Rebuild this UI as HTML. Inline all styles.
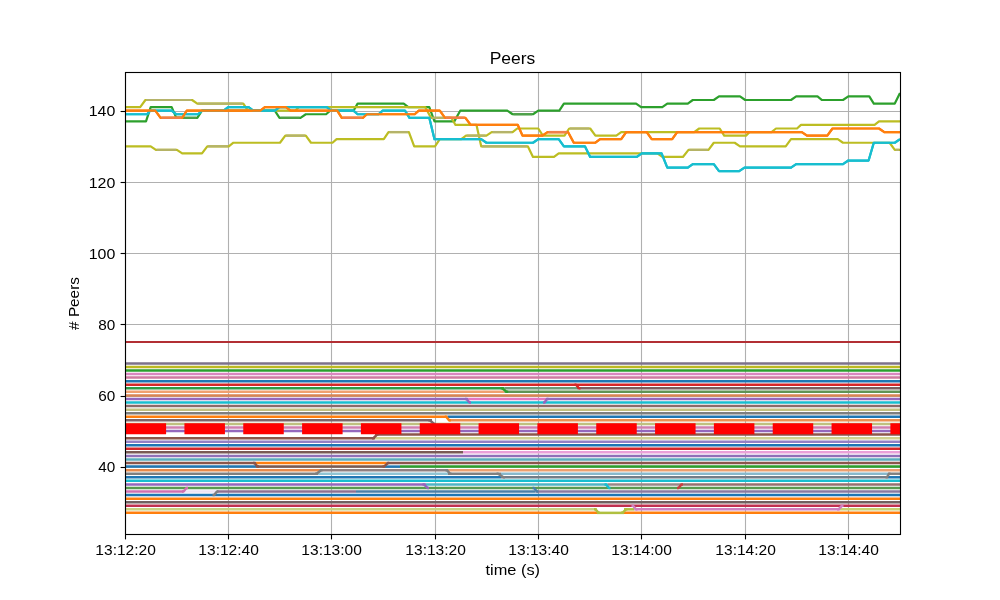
<!DOCTYPE html>
<html><head><meta charset="utf-8"><style>
html,body{margin:0;padding:0;background:#fff;width:1000px;height:600px;overflow:hidden}
svg{display:block;will-change:transform}
.t{font-family:"Liberation Sans",sans-serif;font-size:13.9px;fill:#000}
.ti{font-family:"Liberation Sans",sans-serif;font-size:16.7px;fill:#000}
</style></head><body>
<svg width="1000" height="600" viewBox="0 0 1000 600">
<rect width="1000" height="600" fill="#fff"/>
<line x1="125.50" y1="72" x2="125.50" y2="534" stroke="#b0b0b0" stroke-width="1.11"/>
<line x1="228.50" y1="72" x2="228.50" y2="534" stroke="#b0b0b0" stroke-width="1.11"/>
<line x1="331.50" y1="72" x2="331.50" y2="534" stroke="#b0b0b0" stroke-width="1.11"/>
<line x1="435.50" y1="72" x2="435.50" y2="534" stroke="#b0b0b0" stroke-width="1.11"/>
<line x1="538.50" y1="72" x2="538.50" y2="534" stroke="#b0b0b0" stroke-width="1.11"/>
<line x1="641.50" y1="72" x2="641.50" y2="534" stroke="#b0b0b0" stroke-width="1.11"/>
<line x1="745.50" y1="72" x2="745.50" y2="534" stroke="#b0b0b0" stroke-width="1.11"/>
<line x1="848.50" y1="72" x2="848.50" y2="534" stroke="#b0b0b0" stroke-width="1.11"/>
<line x1="125" y1="467.50" x2="900" y2="467.50" stroke="#b0b0b0" stroke-width="1.11"/>
<line x1="125" y1="396.50" x2="900" y2="396.50" stroke="#b0b0b0" stroke-width="1.11"/>
<line x1="125" y1="324.50" x2="900" y2="324.50" stroke="#b0b0b0" stroke-width="1.11"/>
<line x1="125" y1="253.50" x2="900" y2="253.50" stroke="#b0b0b0" stroke-width="1.11"/>
<line x1="125" y1="182.50" x2="900" y2="182.50" stroke="#b0b0b0" stroke-width="1.11"/>
<line x1="125" y1="111.50" x2="900" y2="111.50" stroke="#b0b0b0" stroke-width="1.11"/>
<line x1="125.0" y1="363.39" x2="900.0" y2="363.39" stroke="#7d728b" stroke-width="2.5"/>
<line x1="125.0" y1="366.95" x2="900.0" y2="366.95" stroke="#bdb922" stroke-width="2.5"/>
<line x1="125.0" y1="370.51" x2="900.0" y2="370.51" stroke="#2a9f2e" stroke-width="2.5"/>
<line x1="125.0" y1="374.07" x2="900.0" y2="374.07" stroke="#d987c0" stroke-width="2.5"/>
<line x1="125.0" y1="377.62" x2="900.0" y2="377.62" stroke="#cf7aa0" stroke-width="2.5"/>
<line x1="125.0" y1="381.18" x2="900.0" y2="381.18" stroke="#1f77b4" stroke-width="2.5"/>
<line x1="125.0" y1="384.74" x2="900.0" y2="384.74" stroke="#d62728" stroke-width="2.5"/>
<line x1="125.0" y1="388.30" x2="504.5" y2="388.30" stroke="#2f9b48" stroke-width="2.5"/>
<line x1="504.5" y1="388.30" x2="577.0" y2="388.30" stroke="#6a9a7a" stroke-width="2.5"/>
<line x1="577.0" y1="388.30" x2="900.0" y2="388.30" stroke="#7a6060" stroke-width="2.5"/>
<line x1="125.0" y1="391.86" x2="504.5" y2="391.86" stroke="#f0a070" stroke-width="2.5"/>
<line x1="504.5" y1="391.86" x2="900.0" y2="391.86" stroke="#5f9455" stroke-width="2.5"/>
<line x1="125.0" y1="395.42" x2="900.0" y2="395.42" stroke="#d98553" stroke-width="2.5"/>
<line x1="125.0" y1="398.98" x2="468.0" y2="398.98" stroke="#9467bd" stroke-width="2.5"/>
<line x1="468.0" y1="398.98" x2="546.0" y2="398.98" stroke="#e377c2" stroke-width="2.5"/>
<line x1="546.0" y1="398.98" x2="900.0" y2="398.98" stroke="#9467bd" stroke-width="2.5"/>
<line x1="125.0" y1="402.54" x2="900.0" y2="402.54" stroke="#17becf" stroke-width="2.5"/>
<line x1="125.0" y1="406.10" x2="900.0" y2="406.10" stroke="#8a6a68" stroke-width="2.5"/>
<line x1="125.0" y1="409.66" x2="900.0" y2="409.66" stroke="#c2c080" stroke-width="2.5"/>
<line x1="125.0" y1="413.21" x2="900.0" y2="413.21" stroke="#7f7f7f" stroke-width="2.5"/>
<line x1="125.0" y1="416.77" x2="447.5" y2="416.77" stroke="#ff7f0e" stroke-width="2.5"/>
<line x1="447.5" y1="416.77" x2="900.0" y2="416.77" stroke="#1f77b4" stroke-width="2.5"/>
<line x1="125.0" y1="420.33" x2="432.0" y2="420.33" stroke="#7c6468" stroke-width="2.5"/>
<line x1="449.0" y1="420.33" x2="900.0" y2="420.33" stroke="#ec9050" stroke-width="2.5"/>
<line x1="125.0" y1="423.89" x2="900.0" y2="423.89" stroke="#c0c080" stroke-width="2.5"/>
<line x1="125.0" y1="427.45" x2="900.0" y2="427.45" stroke="#d080b0" stroke-width="2.5"/>
<line x1="125.0" y1="431.01" x2="900.0" y2="431.01" stroke="#9467bd" stroke-width="2.5"/>
<line x1="375.0" y1="434.57" x2="900.0" y2="434.57" stroke="#8c564b" stroke-width="2.5"/>
<line x1="125.0" y1="438.13" x2="375.0" y2="438.13" stroke="#8c564b" stroke-width="2.5"/>
<line x1="375.0" y1="438.13" x2="900.0" y2="438.13" stroke="#d0d090" stroke-width="2.5"/>
<line x1="125.0" y1="441.69" x2="900.0" y2="441.69" stroke="#9580c4" stroke-width="2.5"/>
<line x1="125.0" y1="445.25" x2="900.0" y2="445.25" stroke="#1f77b4" stroke-width="2.5"/>
<line x1="125.0" y1="448.81" x2="900.0" y2="448.81" stroke="#d62728" stroke-width="2.5"/>
<line x1="125.0" y1="452.36" x2="463.0" y2="452.36" stroke="#7a5a55" stroke-width="2.5"/>
<line x1="463.0" y1="452.36" x2="900.0" y2="452.36" stroke="#eaa0d8" stroke-width="2.5"/>
<line x1="125.0" y1="455.92" x2="900.0" y2="455.92" stroke="#9070b8" stroke-width="2.5"/>
<line x1="125.0" y1="459.48" x2="900.0" y2="459.48" stroke="#5aacbc" stroke-width="2.5"/>
<line x1="125.0" y1="463.04" x2="256.0" y2="463.04" stroke="#8c564b" stroke-width="2.5"/>
<line x1="256.0" y1="463.04" x2="386.5" y2="463.04" stroke="#ff7f0e" stroke-width="2.5"/>
<line x1="386.5" y1="463.04" x2="900.0" y2="463.04" stroke="#8c564b" stroke-width="2.5"/>
<line x1="125.0" y1="466.60" x2="256.0" y2="466.60" stroke="#1f77b4" stroke-width="2.5"/>
<line x1="256.0" y1="466.60" x2="385.0" y2="466.60" stroke="#7a5a50" stroke-width="2.5"/>
<line x1="385.0" y1="466.60" x2="400.0" y2="466.60" stroke="#1f77b4" stroke-width="2.5"/>
<line x1="400.0" y1="466.60" x2="900.0" y2="466.60" stroke="#2ca02c" stroke-width="2.5"/>
<line x1="125.0" y1="470.16" x2="320.0" y2="470.16" stroke="#e8894a" stroke-width="2.5"/>
<line x1="320.0" y1="470.16" x2="448.0" y2="470.16" stroke="#908080" stroke-width="2.5"/>
<line x1="448.0" y1="470.16" x2="900.0" y2="470.16" stroke="#eca070" stroke-width="2.5"/>
<line x1="125.0" y1="473.72" x2="318.0" y2="473.72" stroke="#7f7f7f" stroke-width="2.5"/>
<line x1="318.0" y1="473.72" x2="448.0" y2="473.72" stroke="#90c4d4" stroke-width="2.5"/>
<line x1="448.0" y1="473.72" x2="501.0" y2="473.72" stroke="#808080" stroke-width="2.5"/>
<line x1="501.0" y1="473.72" x2="888.0" y2="473.72" stroke="#88b8cc" stroke-width="2.5"/>
<line x1="888.0" y1="473.72" x2="900.0" y2="473.72" stroke="#808080" stroke-width="2.5"/>
<line x1="125.0" y1="477.28" x2="501.0" y2="477.28" stroke="#1f77b4" stroke-width="2.5"/>
<line x1="501.0" y1="477.28" x2="888.0" y2="477.28" stroke="#737d88" stroke-width="2.5"/>
<line x1="888.0" y1="477.28" x2="900.0" y2="477.28" stroke="#1f77b4" stroke-width="2.5"/>
<line x1="125.0" y1="480.84" x2="900.0" y2="480.84" stroke="#17becf" stroke-width="2.5"/>
<line x1="125.0" y1="484.39" x2="426.0" y2="484.39" stroke="#9467bd" stroke-width="2.5"/>
<line x1="426.0" y1="484.39" x2="607.5" y2="484.39" stroke="#4fb4c4" stroke-width="2.5"/>
<line x1="607.5" y1="484.39" x2="681.0" y2="484.39" stroke="#988888" stroke-width="2.5"/>
<line x1="681.0" y1="484.39" x2="900.0" y2="484.39" stroke="#957070" stroke-width="2.5"/>
<line x1="125.0" y1="487.95" x2="900.0" y2="487.95" stroke="#5a9a50" stroke-width="2.5"/>
<line x1="125.0" y1="491.51" x2="183.5" y2="491.51" stroke="#d070b0" stroke-width="2.5"/>
<line x1="183.5" y1="491.51" x2="217.0" y2="491.51" stroke="#eee4f4" stroke-width="2.5"/>
<line x1="217.0" y1="491.51" x2="356.0" y2="491.51" stroke="#907090" stroke-width="2.5"/>
<line x1="356.0" y1="491.51" x2="535.5" y2="491.51" stroke="#4a80a8" stroke-width="2.5"/>
<line x1="535.5" y1="491.51" x2="900.0" y2="491.51" stroke="#8a7aa0" stroke-width="2.5"/>
<line x1="125.0" y1="495.07" x2="900.0" y2="495.07" stroke="#1f77b4" stroke-width="2.5"/>
<line x1="125.0" y1="498.63" x2="900.0" y2="498.63" stroke="#ff7f0e" stroke-width="2.5"/>
<line x1="125.0" y1="502.19" x2="900.0" y2="502.19" stroke="#706060" stroke-width="2.5"/>
<line x1="125.0" y1="505.75" x2="900.0" y2="505.75" stroke="#c03050" stroke-width="2.5"/>
<line x1="125.0" y1="509.31" x2="597.0" y2="509.31" stroke="#c8d080" stroke-width="2.5"/>
<line x1="624.0" y1="509.31" x2="634.5" y2="509.31" stroke="#b0c040" stroke-width="2.5"/>
<line x1="634.5" y1="509.31" x2="840.0" y2="509.31" stroke="#d080c0" stroke-width="2.5"/>
<line x1="840.0" y1="509.31" x2="900.0" y2="509.31" stroke="#c8d070" stroke-width="2.5"/>
<line x1="125.0" y1="512.87" x2="597.0" y2="512.87" stroke="#ff7f0e" stroke-width="2.5"/>
<line x1="597.0" y1="512.87" x2="624.0" y2="512.87" stroke="#b0c040" stroke-width="2.5"/>
<line x1="624.0" y1="512.87" x2="900.0" y2="512.87" stroke="#ff7f0e" stroke-width="2.5"/>
<polyline points="125.0,146.29 150.7,146.29 155.9,149.85 176.9,149.85 182.2,153.41 202.0,153.41 207.3,146.29 228.8,146.29 233.4,142.73 280.0,142.73 285.3,135.61 305.8,135.61 311.0,142.73 332.5,142.73 336.6,139.17 383.8,139.17 388.5,132.05 408.9,132.05 414.2,146.29 435.0,146.29 439.8,139.17 461.3,139.17 466.0,135.61 486.4,135.61 491.7,132.05 512.6,132.05 517.2,128.50 538.3,128.50 542.9,135.61 564.5,135.61 569.2,128.50 590.2,128.50 595.4,135.61 616.3,135.61 621.2,132.05 694.2,132.05 699.2,128.50 719.7,128.50 724.2,135.61 746.0,135.61 749.7,132.05 771.5,132.05 776.0,128.50 797.0,128.50 801.0,124.94 874.6,124.94 879.0,121.38 900.0,121.38" fill="none" stroke="#bcbd22" stroke-width="2.2" stroke-linejoin="round"/>
<polyline points="125.0,121.38 146.0,121.38 150.7,107.14 171.7,107.14 176.3,117.82 197.3,117.82 202.0,110.70 274.8,110.70 279.5,117.82 300.5,117.82 305.8,114.26 326.1,114.26 330.2,110.70 353.5,110.70 357.6,103.58 403.7,103.58 408.3,107.14 429.3,107.14 434.5,121.38 454.3,121.38 460.2,110.70 507.3,110.70 512.6,114.26 533.0,114.26 538.3,110.70 559.3,110.70 563.9,103.58 636.1,103.58 641.1,107.14 662.3,107.14 667.3,103.58 687.8,103.58 692.8,100.02 713.8,100.02 719.0,96.46 740.0,96.46 745.2,100.02 791.0,100.02 796.2,96.46 817.5,96.46 822.0,100.02 843.0,100.02 848.3,96.46 869.3,96.46 873.8,103.58 894.8,103.58 900.0,92.91" fill="none" stroke="#2ca02c" stroke-width="2.2" stroke-linejoin="round"/>
<polyline points="125.0,107.14 140.2,107.14 145.4,100.02 192.1,100.02 197.3,103.58 243.3,103.58 248.0,110.70 295.0,110.70 299.0,107.14 425.2,107.14 431.0,117.82 451.4,117.82 455.5,124.94 476.5,124.94 481.2,146.29 527.8,146.29 533.0,156.97 554.0,156.97 558.7,153.41 657.4,153.41 662.3,156.97 682.9,156.97 688.5,149.85 708.5,149.85 713.8,142.73 734.7,142.73 740.0,146.29 785.7,146.29 791.0,139.17 837.8,139.17 843.0,142.73 889.6,142.73 894.8,149.85 900.0,149.85" fill="none" stroke="#bcbd22" stroke-width="2.2" stroke-linejoin="round"/>
<polyline points="125.0,114.26 147.2,114.26 150.0,110.70 171.7,110.70 176.3,114.26 198.0,114.26 202.0,110.70 223.5,110.70 228.2,107.14 248.6,107.14 253.3,110.70 274.8,110.70 279.5,107.14 326.7,107.14 331.3,110.70 353.5,110.70 357.6,114.26 378.6,114.26 382.7,110.70 405.0,110.70 409.5,117.82 429.3,117.82 434.5,139.17 481.2,139.17 486.4,142.73 533.0,142.73 538.3,139.17 558.7,139.17 563.9,146.29 584.9,146.29 590.2,156.97 636.8,156.97 641.8,153.41 661.6,153.41 667.3,167.64 687.8,167.64 692.8,164.08 713.8,164.08 719.0,171.20 739.2,171.20 744.5,167.64 791.0,167.64 796.2,164.08 843.0,164.08 848.3,160.53 868.6,160.53 873.8,142.73 894.8,142.73 900.0,139.17" fill="none" stroke="#17becf" stroke-width="2.2" stroke-linejoin="round"/>
<polyline points="125.0,110.70 155.3,110.70 160.6,117.82 182.2,117.82 186.8,110.70 260.3,110.70 264.9,107.14 285.9,107.14 290.6,110.70 337.2,110.70 341.8,117.82 362.8,117.82 366.9,114.26 414.7,114.26 418.8,110.70 439.8,110.70 445.0,117.82 465.4,117.82 470.7,124.94 517.8,124.94 522.5,135.61 542.3,135.61 547.6,132.05 568.0,132.05 573.8,142.73 595.4,142.73 600.1,139.17 621.2,139.17 626.2,132.05 646.7,132.05 651.7,139.17 672.2,139.17 677.2,132.05 801.8,132.05 807.0,135.61 827.3,135.61 832.5,128.50 879.0,128.50 884.3,132.05 900.0,132.05" fill="none" stroke="#ff7f0e" stroke-width="2.2" stroke-linejoin="round"/>
<line x1="146.2" y1="100.02" x2="191.3" y2="100.02" stroke="#b5b36a" stroke-width="2.2"/>
<line x1="198.1" y1="103.58" x2="242.5" y2="103.58" stroke="#b5b36a" stroke-width="2.2"/>
<line x1="431.8" y1="117.82" x2="450.6" y2="117.82" stroke="#b5b36a" stroke-width="2.2"/>
<line x1="482.0" y1="146.29" x2="527.0" y2="146.29" stroke="#b5b36a" stroke-width="2.2"/>
<line x1="156.7" y1="149.85" x2="176.1" y2="149.85" stroke="#b5b36a" stroke-width="2.2"/>
<line x1="208.1" y1="146.29" x2="227.9" y2="146.29" stroke="#b5b36a" stroke-width="2.2"/>
<line x1="286.1" y1="135.61" x2="305.0" y2="135.61" stroke="#b5b36a" stroke-width="2.2"/>
<line x1="389.3" y1="132.05" x2="408.1" y2="132.05" stroke="#b5b36a" stroke-width="2.2"/>
<line x1="466.8" y1="135.61" x2="485.6" y2="135.61" stroke="#b5b36a" stroke-width="2.2"/>
<line x1="492.5" y1="132.05" x2="511.8" y2="132.05" stroke="#b5b36a" stroke-width="2.2"/>
<line x1="570.0" y1="128.50" x2="589.4" y2="128.50" stroke="#b5b36a" stroke-width="2.2"/>
<line x1="689.3" y1="149.85" x2="707.7" y2="149.85" stroke="#b5b36a" stroke-width="2.2"/>
<line x1="895.6" y1="149.85" x2="899.2" y2="149.85" stroke="#b5b36a" stroke-width="2.2"/>
<line x1="161.4" y1="117.82" x2="181.4" y2="117.82" stroke="#f0804a" stroke-width="2.2"/>
<line x1="342.6" y1="117.82" x2="362.0" y2="117.82" stroke="#f0804a" stroke-width="2.2"/>
<line x1="445.8" y1="117.82" x2="464.6" y2="117.82" stroke="#f0804a" stroke-width="2.2"/>
<line x1="548.4" y1="132.05" x2="567.2" y2="132.05" stroke="#f0804a" stroke-width="2.2"/>
<line x1="177.1" y1="117.82" x2="196.5" y2="117.82" stroke="#4f9f4a" stroke-width="2.2"/>
<line x1="280.3" y1="117.82" x2="299.7" y2="117.82" stroke="#4f9f4a" stroke-width="2.2"/>
<line x1="513.4" y1="114.26" x2="532.2" y2="114.26" stroke="#4f9f4a" stroke-width="2.2"/>
<polyline points="125.0,114.26 147.2,114.26 150.0,110.70 171.7,110.70 176.3,114.26 198.0,114.26 202.0,110.70 223.5,110.70 228.2,107.14 248.6,107.14 253.3,110.70 274.8,110.70 279.5,107.14 326.7,107.14 331.3,110.70 353.5,110.70 357.6,114.26 378.6,114.26 382.7,110.70 405.0,110.70 409.5,117.82 429.3,117.82 434.5,139.17 481.2,139.17 486.4,142.73 533.0,142.73 538.3,139.17 558.7,139.17 563.9,146.29 584.9,146.29 590.2,156.97 636.8,156.97 641.8,153.41 661.6,153.41 667.3,167.64 687.8,167.64 692.8,164.08 713.8,164.08 719.0,171.20 739.2,171.20 744.5,167.64 791.0,167.64 796.2,164.08 843.0,164.08 848.3,160.53 868.6,160.53 873.8,142.73 894.8,142.73 900.0,139.17" fill="none" stroke="#17becf" stroke-width="2.2" stroke-linejoin="round"/>
<polyline points="125.0,110.70 155.3,110.70 160.6,117.82 182.2,117.82 186.8,110.70 260.3,110.70 264.9,107.14 285.9,107.14 290.6,110.70 337.2,110.70 341.8,117.82 362.8,117.82 366.9,114.26 414.7,114.26 418.8,110.70 439.8,110.70 445.0,117.82 465.4,117.82 470.7,124.94 517.8,124.94 522.5,135.61 542.3,135.61 547.6,132.05 568.0,132.05 573.8,142.73 595.4,142.73 600.1,139.17 621.2,139.17 626.2,132.05 646.7,132.05 651.7,139.17 672.2,139.17 677.2,132.05 801.8,132.05 807.0,135.61 827.3,135.61 832.5,128.50 879.0,128.50 884.3,132.05 900.0,132.05" fill="none" stroke="#ff7f0e" stroke-width="2.2" stroke-linejoin="round"/>
<line x1="161.4" y1="117.82" x2="181.4" y2="117.82" stroke="#f0804a" stroke-width="2.2"/>
<line x1="342.6" y1="117.82" x2="362.0" y2="117.82" stroke="#f0804a" stroke-width="2.2"/>
<line x1="445.8" y1="117.82" x2="464.6" y2="117.82" stroke="#f0804a" stroke-width="2.2"/>
<line x1="548.4" y1="132.05" x2="567.2" y2="132.05" stroke="#f0804a" stroke-width="2.2"/>
<polyline points="428.2,420.33 429.8,420.33 434.2,423.89 435.8,423.89" fill="none" stroke="#7c6468" stroke-width="2.5" stroke-linejoin="round"/>
<polyline points="444.8,416.77 446.2,416.77 449.2,420.33 450.8,420.33" fill="none" stroke="#ff7f0e" stroke-width="2.5" stroke-linejoin="round"/>
<polyline points="465.0,398.98 466.5,398.98 469.5,402.54 471.0,402.54" fill="none" stroke="#9467bd" stroke-width="2.5" stroke-linejoin="round"/>
<polyline points="543.0,402.54 544.5,402.54 547.0,398.98 548.5,398.98" fill="none" stroke="#9467bd" stroke-width="2.5" stroke-linejoin="round"/>
<polyline points="500.8,388.30 502.3,388.30 506.7,391.86 508.2,391.86" fill="none" stroke="#2ca02c" stroke-width="2.5" stroke-linejoin="round"/>
<polyline points="574.5,384.74 576.0,384.74 579.0,388.30 580.5,388.30" fill="none" stroke="#d62728" stroke-width="2.5" stroke-linejoin="round"/>
<polyline points="253.0,463.04 254.5,463.04 257.5,466.60 259.0,466.60" fill="none" stroke="#8c564b" stroke-width="2.5" stroke-linejoin="round"/>
<polyline points="382.5,466.60 384.0,466.60 387.8,463.04 389.2,463.04" fill="none" stroke="#8c564b" stroke-width="2.5" stroke-linejoin="round"/>
<polyline points="315.0,473.72 316.5,473.72 321.0,470.16 322.5,470.16" fill="none" stroke="#7f7f7f" stroke-width="2.5" stroke-linejoin="round"/>
<polyline points="445.5,470.16 447.0,470.16 450.0,473.72 451.5,473.72" fill="none" stroke="#808080" stroke-width="2.5" stroke-linejoin="round"/>
<polyline points="496.5,473.72 498.0,473.72 503.5,477.28 505.0,477.28" fill="none" stroke="#808080" stroke-width="2.5" stroke-linejoin="round"/>
<polyline points="422.5,484.39 424.0,484.39 427.5,487.95 429.0,487.95" fill="none" stroke="#9467bd" stroke-width="2.5" stroke-linejoin="round"/>
<polyline points="604.5,484.39 606.0,484.39 609.0,487.95 610.5,487.95" fill="none" stroke="#17becf" stroke-width="2.5" stroke-linejoin="round"/>
<polyline points="182.0,491.51 183.5,491.51 186.5,487.95 188.0,487.95" fill="none" stroke="#d070b0" stroke-width="2.5" stroke-linejoin="round"/>
<polyline points="212.5,495.07 214.0,495.07 217.0,491.51 218.5,491.51" fill="none" stroke="#808080" stroke-width="2.5" stroke-linejoin="round"/>
<polyline points="372.0,438.13 373.5,438.13 377.0,434.57 378.5,434.57" fill="none" stroke="#8c564b" stroke-width="2.5" stroke-linejoin="round"/>
<polyline points="594.0,509.31 595.5,509.31 598.5,512.87 600.0,512.87" fill="none" stroke="#b0c040" stroke-width="2.5" stroke-linejoin="round"/>
<polyline points="621.0,512.87 622.5,512.87 626.0,509.31 627.5,509.31" fill="none" stroke="#b0c040" stroke-width="2.5" stroke-linejoin="round"/>
<polyline points="631.5,505.75 633.0,505.75 636.0,509.31 637.5,509.31" fill="none" stroke="#d080c0" stroke-width="2.5" stroke-linejoin="round"/>
<polyline points="837.0,509.31 838.5,509.31 842.0,505.75 843.5,505.75" fill="none" stroke="#d080c0" stroke-width="2.5" stroke-linejoin="round"/>
<polyline points="885.5,477.28 887.0,477.28 889.0,473.72 890.5,473.72" fill="none" stroke="#808080" stroke-width="2.5" stroke-linejoin="round"/>
<polyline points="677.0,487.95 678.5,487.95 681.5,484.39 683.0,484.39" fill="none" stroke="#c84040" stroke-width="2.5" stroke-linejoin="round"/>
<polyline points="532.5,487.95 534.0,487.95 537.0,491.51 538.5,491.51" fill="none" stroke="#4a80a8" stroke-width="2.5" stroke-linejoin="round"/>
<line x1="125.5" y1="342.04" x2="900.0" y2="342.04" stroke="#b22f34" stroke-width="2.15"/>
<line x1="125.6" y1="428.8" x2="900" y2="428.8" stroke="#ff0000" stroke-width="11.1" stroke-dasharray="40.5 18.33"/>
<rect x="125.5" y="72.5" width="775" height="462" fill="none" stroke="#000" stroke-width="1.11"/>
<line x1="125.50" y1="534.5" x2="125.50" y2="539.4" stroke="#000" stroke-width="1.11"/>
<text x="125.60" y="555.2" class="t" text-anchor="middle" textLength="60.5" lengthAdjust="spacingAndGlyphs">13:12:20</text>
<line x1="228.50" y1="534.5" x2="228.50" y2="539.4" stroke="#000" stroke-width="1.11"/>
<text x="228.60" y="555.2" class="t" text-anchor="middle" textLength="60.5" lengthAdjust="spacingAndGlyphs">13:12:40</text>
<line x1="331.50" y1="534.5" x2="331.50" y2="539.4" stroke="#000" stroke-width="1.11"/>
<text x="331.60" y="555.2" class="t" text-anchor="middle" textLength="60.5" lengthAdjust="spacingAndGlyphs">13:13:00</text>
<line x1="435.50" y1="534.5" x2="435.50" y2="539.4" stroke="#000" stroke-width="1.11"/>
<text x="435.60" y="555.2" class="t" text-anchor="middle" textLength="60.5" lengthAdjust="spacingAndGlyphs">13:13:20</text>
<line x1="538.50" y1="534.5" x2="538.50" y2="539.4" stroke="#000" stroke-width="1.11"/>
<text x="538.60" y="555.2" class="t" text-anchor="middle" textLength="60.5" lengthAdjust="spacingAndGlyphs">13:13:40</text>
<line x1="641.50" y1="534.5" x2="641.50" y2="539.4" stroke="#000" stroke-width="1.11"/>
<text x="641.60" y="555.2" class="t" text-anchor="middle" textLength="60.5" lengthAdjust="spacingAndGlyphs">13:14:00</text>
<line x1="745.50" y1="534.5" x2="745.50" y2="539.4" stroke="#000" stroke-width="1.11"/>
<text x="745.60" y="555.2" class="t" text-anchor="middle" textLength="60.5" lengthAdjust="spacingAndGlyphs">13:14:20</text>
<line x1="848.50" y1="534.5" x2="848.50" y2="539.4" stroke="#000" stroke-width="1.11"/>
<text x="848.60" y="555.2" class="t" text-anchor="middle" textLength="60.5" lengthAdjust="spacingAndGlyphs">13:14:40</text>
<line x1="120.6" y1="467.50" x2="125.5" y2="467.50" stroke="#000" stroke-width="1.11"/>
<text x="115.3" y="472.40" class="t" text-anchor="end" textLength="17.0" lengthAdjust="spacingAndGlyphs">40</text>
<line x1="120.6" y1="396.50" x2="125.5" y2="396.50" stroke="#000" stroke-width="1.11"/>
<text x="115.3" y="401.18" class="t" text-anchor="end" textLength="17.0" lengthAdjust="spacingAndGlyphs">60</text>
<line x1="120.6" y1="324.50" x2="125.5" y2="324.50" stroke="#000" stroke-width="1.11"/>
<text x="115.3" y="329.96" class="t" text-anchor="end" textLength="17.0" lengthAdjust="spacingAndGlyphs">80</text>
<line x1="120.6" y1="253.50" x2="125.5" y2="253.50" stroke="#000" stroke-width="1.11"/>
<text x="115.3" y="258.74" class="t" text-anchor="end" textLength="26.6" lengthAdjust="spacingAndGlyphs">100</text>
<line x1="120.6" y1="182.50" x2="125.5" y2="182.50" stroke="#000" stroke-width="1.11"/>
<text x="115.3" y="187.52" class="t" text-anchor="end" textLength="26.6" lengthAdjust="spacingAndGlyphs">120</text>
<line x1="120.6" y1="111.50" x2="125.5" y2="111.50" stroke="#000" stroke-width="1.11"/>
<text x="115.3" y="116.30" class="t" text-anchor="end" textLength="26.6" lengthAdjust="spacingAndGlyphs">140</text>
<text x="512.5" y="64.1" class="ti" text-anchor="middle" textLength="45.6" lengthAdjust="spacingAndGlyphs">Peers</text>
<text x="512.8" y="574.9" class="t" text-anchor="middle" textLength="54.5" lengthAdjust="spacingAndGlyphs">time (s)</text>
<text transform="translate(79.4,303.5) rotate(-90)" x="0" y="0" class="t" text-anchor="middle" textLength="52.8" lengthAdjust="spacingAndGlyphs"># Peers</text>
</svg></body></html>
